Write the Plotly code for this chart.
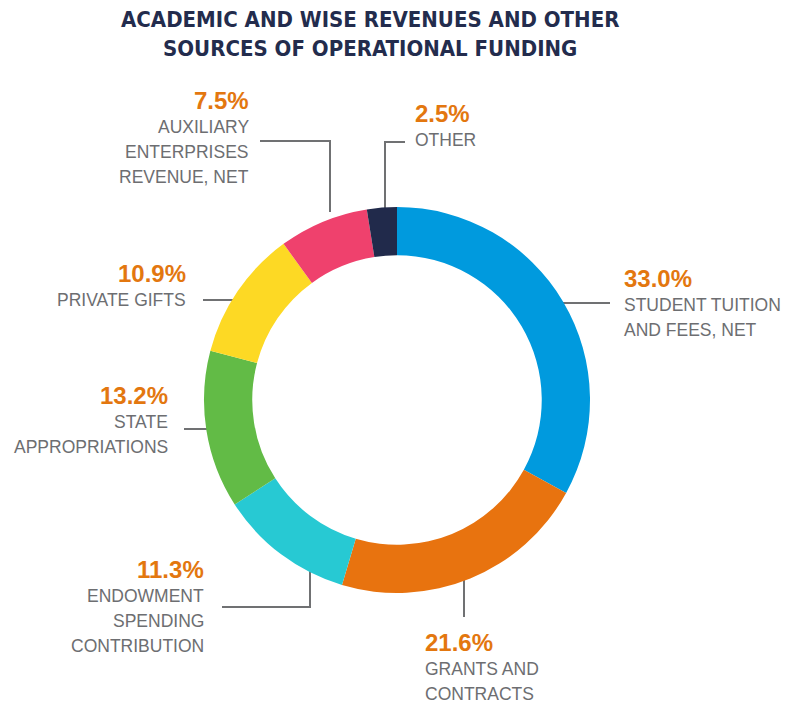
import plotly.graph_objects as go

# slice data, clockwise from 12 o'clock
categories = [
    "STUDENT TUITION<br>AND FEES, NET",
    "GRANTS AND<br>CONTRACTS",
    "ENDOWMENT<br>SPENDING<br>CONTRIBUTION",
    "STATE<br>APPROPRIATIONS",
    "PRIVATE GIFTS",
    "AUXILIARY<br>ENTERPRISES<br>REVENUE, NET",
    "OTHER",
]
shares = [33.0, 21.6, 11.3, 13.2, 10.9, 7.5, 2.5]
colors = ["#009ADE", "#E8730F", "#27C9D3", "#62BB46", "#FDD924", "#EF416D", "#212A4B"]

TITLE = "ACADEMIC AND WISE REVENUES AND OTHER<br>SOURCES OF OPERATIONAL FUNDING"
W, H = 799, 707
OFF = 8  # the html body has an 8px margin, so work in window pixels
PCT_COLOR = "#E3770F"
TXT_COLOR = "#6D6E71"
LINE_COLOR = "#707173"
FONT = "Liberation Sans, Arial, sans-serif"

# label placement in window pixels: text x, anchor, y of percent line, leader polyline
placement = [
    dict(x=622, anchor="left", y=278, leader=[(540, 303), (610, 303)]),
    dict(x=423, anchor="left", y=642, leader=[(464, 560), (464, 617)]),
    dict(x=206, anchor="right", y=569, leader=[(310, 550), (310, 607), (222, 607)]),
    dict(x=170, anchor="right", y=395, leader=[(229, 429), (184, 429)]),
    dict(x=188, anchor="right", y=273, leader=[(246, 300), (203, 300)]),
    dict(x=251, anchor="right", y=100, leader=[(330, 212), (330, 141), (260, 141)]),
    dict(x=413, anchor="left", y=113, leader=[(385, 222), (385, 142), (405, 142)]),
]

# donut geometry (window pixels)
cx, cy, r = 397 - OFF, 400 - OFF, 193

fig = go.Figure()
fig.add_trace(go.Pie(
    values=shares,
    labels=[c.replace("<br>", " ") for c in categories],
    marker=dict(colors=colors, line=dict(width=0)),
    hole=0.75,
    sort=False,
    direction="clockwise",
    rotation=0,
    textinfo="none",
    hoverinfo="label+percent",
    showlegend=False,
    domain=dict(x=[(cx - r) / W, (cx + r) / W], y=[1 - (cy + r) / H, 1 - (cy - r) / H]),
))

annotations = []
for cat, val, p in zip(categories, shares, placement):
    xs = [pt[0] for pt in p["leader"]]
    ys = [pt[1] for pt in p["leader"]]
    fig.add_trace(go.Scatter(x=xs, y=ys, mode="lines", line=dict(color=LINE_COLOR, width=2),
                             hoverinfo="skip", showlegend=False))
    annotations.append(dict(
        x=p["x"], y=p["y"], xref="x", yref="y", text=f"<b>{val:.1f}%</b>",
        xanchor=p["anchor"], yanchor="middle", showarrow=False,
        font=dict(family=FONT, size=24, color=PCT_COLOR),
    ))
    for i, line in enumerate(cat.split("<br>")):
        annotations.append(dict(
            x=p["x"], y=p["y"] + 27 + 25 * i, xref="x", yref="y", text=line,
            xanchor=p["anchor"], yanchor="middle", showarrow=False,
            font=dict(family=FONT, size=17.5, color=TXT_COLOR),
        ))

for i, line in enumerate(TITLE.split("<br>")):
    annotations.append(dict(
        x=370, y=19 + 29 * i, xref="x", yref="y", text=f"<b>{line}</b>",
        xanchor="center", yanchor="middle", showarrow=False,
        font=dict(family="DejaVu Sans Condensed, sans-serif", size=22, color="#232C4D"),
    ))

fig.update_layout(
    width=W, height=H,
    margin=dict(l=0, r=0, t=0, b=0),
    paper_bgcolor="white", plot_bgcolor="rgba(0,0,0,0)",
    xaxis=dict(range=[OFF, W + OFF], visible=False, fixedrange=True),
    yaxis=dict(range=[H + OFF, OFF], visible=False, fixedrange=True),
    annotations=annotations,
)

fig.write_html("out.html")
